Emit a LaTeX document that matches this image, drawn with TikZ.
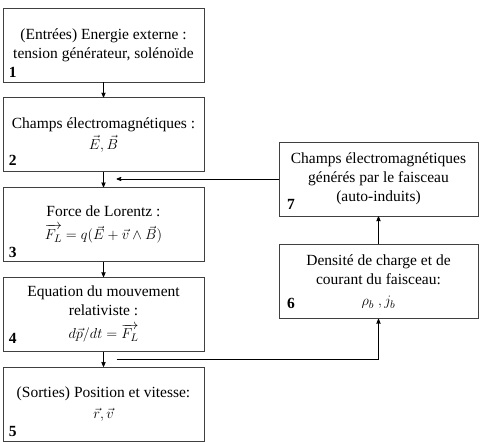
\documentclass[tikz,border=0pt]{standalone}
\usepackage{fontspec}
\setmainfont{Liberation Serif}
\usepackage{amsmath,amssymb}
\usepackage{tikz}
\usetikzlibrary{calc}
\usetikzlibrary{positioning}
\usetikzlibrary{arrows}

\begin{document}
\begin{tikzpicture}[->,>=stealth',thick,node distance=15pt,
  box node/.style={rectangle,draw=black!75,line width=0.8pt,align=center,minimum width=201pt,minimum height=74pt,inner sep=2pt,font=\fontsize{15.5}{19}\selectfont},
  side node/.style={box node,minimum width=199pt},
  num node/.style={anchor=base west,inner sep=0pt,font=\fontsize{15.5}{19}\selectfont\bfseries}]

  \useasboundingbox (0pt,0pt) rectangle (480pt,-442pt);

  \node[box node] (b1) at (103.5pt,-45pt) {(Entrées) Energie externe :\\tension générateur, solénoïde};
  \node[box node] (b2) [below=of b1] {Champs électromagnétiques :\\[2pt]$\vec{E},\vec{B}$};
  \node[box node] (b3) [below=of b2] {Force de Lorentz :\\[4pt]$\overrightarrow{F_L} = q(\vec{E}+\vec{v}\wedge\vec{B})$};
  \node[box node] (b4) [below=of b3] {Equation du mouvement\\relativiste :\\[4pt]$d\vec{p}/dt=\overrightarrow{F_L}$};
  \node[box node] (b5) [below=of b4] {(Sorties) Position et vitesse:\\[2pt]$\vec{r},\vec{v}$};
  \node[side node] (b7) at (378.5pt,-179pt) {Champs électromagnétiques\\générés par le faisceau\\(auto-induits)};
  \node[side node] (b6) at (378.5pt,-281.5pt) {Densité de charge et de\\courant du faisceau:\\[2pt]$\rho_b\ ,j_b$};

  \node[num node] (n1) at ($(b1.south west)+(6pt,5pt)$) {1};
  \node[num node] (n2) at ($(b2.south west)+(6pt,7pt)$) {2};
  \node[num node] (n3) at ($(b3.south west)+(6pt,5pt)$) {3};
  \node[num node] (n4) at ($(b4.south west)+(6pt,8pt)$) {4};
  \node[num node] (n5) at ($(b5.south west)+(6pt,5pt)$) {5};
  \node[num node] (n6) at ($(b6.south west)+(8pt,10pt)$) {6};
  \node[num node] (n7) at ($(b7.south west)+(8pt,7pt)$) {7};

  \coordinate (in3) at ($(b2.south)+(13pt,0pt)$);
  \coordinate (out4) at ($(b4.south)!0.5!(b5.north)+(13pt,0pt)$);

  \draw (b1) -- (b2);
  \draw (b2) -- (b3);
  \draw (b3) -- (b4);
  \draw (b4) -- (b5);
  \draw (b6) -- (b7);
  \draw (b7.west) -- (b7.west -| in3);
  \draw (out4) -| (b6.south);

\end{tikzpicture}
\end{document}
